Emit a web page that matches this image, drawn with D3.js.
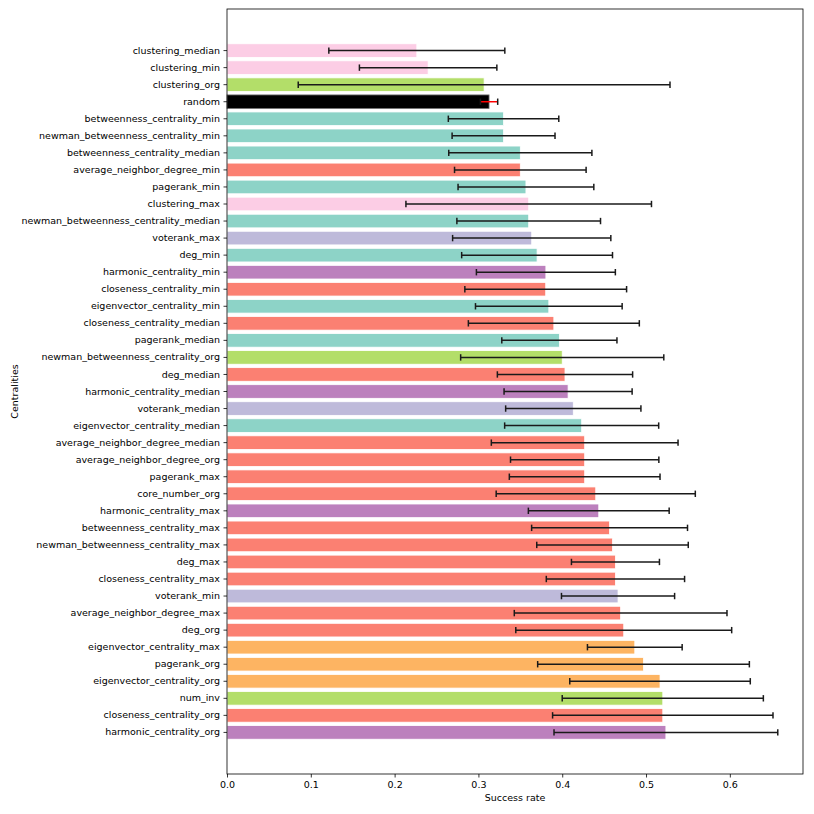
<!DOCTYPE html>
<html>
<head>
<meta charset="utf-8">
<script src="https://cdn.jsdelivr.net/npm/d3@7"></script>
<style>
  body { margin: 0; background: #fff; }
  text { font-family: "DejaVu Sans", sans-serif; }
</style>
</head>
<body>
<svg id="chart" width="814" height="814"></svg>
<script>
// top to bottom
const names = [
  "clustering_median", "clustering_min", "clustering_org", "random",
  "betweenness_centrality_min", "newman_betweenness_centrality_min",
  "betweenness_centrality_median", "average_neighbor_degree_min",
  "pagerank_min", "clustering_max", "newman_betweenness_centrality_median",
  "voterank_max", "deg_min", "harmonic_centrality_min",
  "closeness_centrality_min", "eigenvector_centrality_min",
  "closeness_centrality_median", "pagerank_median",
  "newman_betweenness_centrality_org", "deg_median",
  "harmonic_centrality_median", "voterank_median",
  "eigenvector_centrality_median", "average_neighbor_degree_median",
  "average_neighbor_degree_org", "pagerank_max", "core_number_org",
  "harmonic_centrality_max", "betweenness_centrality_max",
  "newman_betweenness_centrality_max", "deg_max", "closeness_centrality_max",
  "voterank_min", "average_neighbor_degree_max", "deg_org",
  "eigenvector_centrality_max", "pagerank_org", "eigenvector_centrality_org",
  "num_inv", "closeness_centrality_org", "harmonic_centrality_org"
];
const rates = [
  0.2265, 0.240, 0.3068, 0.3127, 0.330, 0.330, 0.350, 0.350, 0.3567, 0.360,
  0.360, 0.3636, 0.370, 0.3805, 0.3803, 0.384, 0.390, 0.3966, 0.400, 0.4033,
  0.407, 0.4132, 0.4232, 0.4268, 0.4268, 0.4268, 0.440, 0.4436, 0.4565,
  0.4600, 0.4635, 0.4635, 0.4666, 0.4697, 0.4734, 0.4866, 0.497, 0.5167,
  0.520, 0.520, 0.5237
];
const errs = [
  0.105, 0.082, 0.2218, 0.0103, 0.0659, 0.0614, 0.0854, 0.0785, 0.081, 0.1465,
  0.0857, 0.0944, 0.090, 0.0829, 0.0965, 0.0875, 0.102, 0.0687, 0.1212, 0.0807,
  0.0764, 0.0807, 0.0919, 0.1114, 0.0885, 0.0899, 0.1188, 0.084, 0.093,
  0.0904, 0.0525, 0.0825, 0.0675, 0.1269, 0.1288, 0.0565, 0.1263, 0.1077,
  0.120, 0.1315, 0.1335
];
// cluster each centrality was put in
const groups = [
  4, 4, 5, "r", 0, 0, 0, 3, 0, 4, 0, 2, 0, 1, 3, 0, 3, 0, 5, 3,
  1, 2, 0, 3, 3, 3, 3, 1, 3, 3, 3, 3, 2, 3, 3, 6, 6, 6, 5, 3, 1
];
const xTicks = [0, 0.1, 0.2, 0.3, 0.4, 0.5, 0.6];

const color = d3.scaleOrdinal()
  .domain([0, 1, 2, 3, 4, 5, 6, "r"])
  .range(["#8dd3c7", "#bc80bd", "#bebada", "#fb8072", "#fccde5", "#b3de69", "#fdb462", "#000000"]);

const mLeft = 227, mRight = 803, mTop = 9, mBottom = 774;
const fs = "9.5px";
const data = names.map((n, i) => ({name: n, v: rates[i], e: errs[i], g: groups[i]}));

const svg = d3.select("#chart");

const x = d3.scaleLinear().domain([0, 0.6873]).range([mLeft, mRight]);
const y = d3.scaleBand().domain(names).range([mTop, mBottom])
  .paddingInner(0.2).paddingOuter(2.04);

svg.append("g").selectAll("rect").data(data)
  .enter().append("rect")
    .attr("x", x(0))
    .attr("y", d => y(d.name))
    .attr("width", d => x(d.v) - x(0))
    .attr("height", y.bandwidth())
    .attr("fill", d => color(d.g))
    .attr("stroke", d => d.g === "r" ? "#777" : "#fff")
    .attr("stroke-width", 0.8);

const eb = svg.append("g").selectAll("g").data(data)
  .enter().append("g")
    .attr("transform", d => `translate(0,${y(d.name) + y.bandwidth() / 2})`);
eb.append("line")
    .attr("x1", d => x(d.v - d.e))
    .attr("x2", d => x(d.v + d.e))
    .attr("stroke", d => d.g === "r" ? "#ff0000" : "#1a1a1a")
    .attr("stroke-width", 1.5);
[-1, 1].forEach(s => {
  eb.append("line")
      .attr("x1", d => x(d.v + s * d.e))
      .attr("x2", d => x(d.v + s * d.e))
      .attr("y1", -3.2).attr("y2", 3.2)
      .attr("stroke", "#1a1a1a")
      .attr("stroke-width", 1.5);
});

const xAxis = d3.axisBottom(x).tickValues(xTicks).tickFormat(d3.format(".1f"))
  .tickSize(3.5).tickPadding(4);
const gx = svg.append("g").attr("transform", `translate(0,${mBottom})`).call(xAxis);
const yAxis = d3.axisLeft(y).tickSize(3.5).tickPadding(3.5);
const gy = svg.append("g").attr("transform", `translate(${mLeft},0)`).call(yAxis);

[gx, gy].forEach(g => {
  g.select(".domain").remove();
  g.selectAll(".tick line").attr("stroke", "#000").attr("stroke-width", 0.8);
  g.selectAll(".tick text").attr("fill", "#000")
    .style("font-family", "DejaVu Sans").style("font-size", fs);
});

svg.append("rect")
  .attr("x", mLeft).attr("y", mTop)
  .attr("width", mRight - mLeft).attr("height", mBottom - mTop)
  .attr("fill", "none").attr("stroke", "#000").attr("stroke-width", 0.8);

svg.append("text")
  .attr("x", (mLeft + mRight) / 2).attr("y", 801)
  .attr("text-anchor", "middle")
  .style("font-size", fs)
  .text("Success rate");

svg.append("text")
  .attr("transform", `translate(18,${(mTop + mBottom) / 2}) rotate(-90)`)
  .attr("text-anchor", "middle")
  .style("font-size", fs)
  .text("Centralities");
</script>
</body>
</html>
